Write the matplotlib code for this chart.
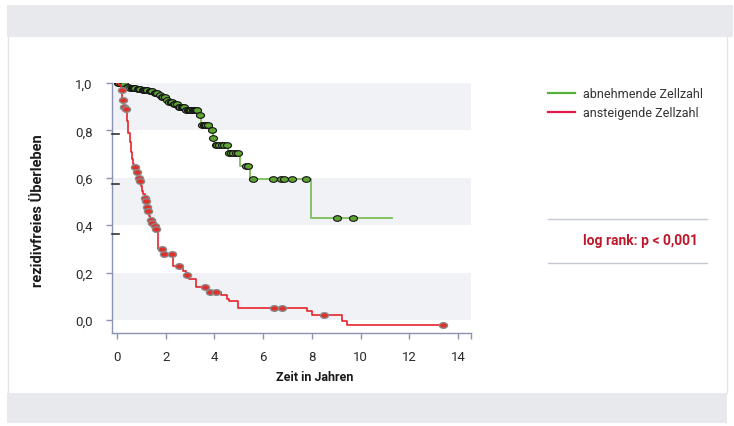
import numpy as np
import matplotlib
matplotlib.use("Agg")
import matplotlib.pyplot as plt
from matplotlib.path import Path
from matplotlib.patches import Rectangle
from matplotlib.lines import Line2D

plt.rcParams['font.family'] = ['Roboto', 'DejaVu Sans']

# ---------------- data ----------------
green_label = "abnehmende Zellzahl"
red_label = "ansteigende Zellzahl"

green_t = [0.0, 0.2, 0.35, 0.5, 0.8, 1.0, 1.3, 1.5, 1.7, 1.8, 2.0, 2.1, 2.3, 2.5, 2.8,
           3.38, 3.45, 3.9, 3.95, 4.0, 4.55, 5.05, 5.45, 7.98, 11.3]
green_s = [1.0, 0.995, 0.985, 0.978, 0.975, 0.97, 0.965, 0.958, 0.95, 0.94, 0.93, 0.92,
           0.91, 0.90, 0.888, 0.865, 0.823, 0.80, 0.77, 0.74, 0.705, 0.65, 0.595, 0.43, 0.43]
green_cens = [0.05, 0.1, 0.15, 0.25, 0.3, 0.4, 0.45, 0.55, 0.6, 0.65, 0.7, 0.75, 0.85, 0.9,
              0.95, 1.05, 1.1, 1.15, 1.2, 1.25, 1.35, 1.4, 1.45, 1.55, 1.6, 1.65, 1.75, 1.85,
              1.9, 1.95, 2.05, 2.15, 2.2, 2.25, 2.35, 2.4, 2.45, 2.55, 2.6, 2.65, 2.7, 2.75,
              2.85, 2.9, 2.95, 3.0, 3.05, 3.1, 3.15, 3.2, 3.25, 3.3, 3.42, 3.5, 3.55, 3.6,
              3.65, 3.75, 3.9, 3.96, 4.05, 4.12, 4.2, 4.3, 4.4, 4.5, 4.6, 4.68, 4.78, 4.88,
              4.98, 5.3, 5.39, 5.6, 6.42, 6.75, 6.87, 7.2, 7.74, 9.05, 9.67]

red_t = [0.0, 0.1, 0.18, 0.22, 0.27, 0.35, 0.42, 0.47, 0.52, 0.57, 0.62, 0.66, 0.70, 0.78,
         0.86, 0.92, 0.98, 1.03, 1.08, 1.13, 1.18, 1.22, 1.25, 1.3, 1.36, 1.42, 1.5, 1.6,
         1.69, 1.9, 2.3, 2.72, 2.85, 2.95, 3.25, 3.7, 4.28, 4.53, 4.61, 4.98, 7.78, 8.02,
         9.22, 9.42, 13.54]
red_s = [1.0, 0.99, 0.97, 0.93, 0.90, 0.89, 0.84, 0.79, 0.75, 0.71, 0.68, 0.66, 0.645, 0.625,
         0.60, 0.585, 0.565, 0.545, 0.53, 0.515, 0.50, 0.475, 0.46, 0.44, 0.42, 0.41, 0.397,
         0.384, 0.30, 0.28, 0.228, 0.207, 0.19, 0.173, 0.139, 0.118, 0.105, 0.089, 0.08,
         0.051, 0.038, 0.021, -0.004, -0.021, -0.021]
red_cens = [0.2, 0.25, 0.3, 0.37, 0.74, 0.82, 0.9, 0.95, 1.15, 1.2, 1.23, 1.26, 1.4, 1.45,
            1.56, 1.62, 1.85, 1.93, 2.26, 2.55, 2.88, 3.62, 3.83, 4.07, 6.46, 6.79, 8.48, 13.37]

y_ticks = [0.0, 0.2, 0.4, 0.6, 0.8, 1.0]
y_ticklabels = ["0,0", "0,2", "0,4", "0,6", "0,8", "1,0"]
x_ticks = [0, 2, 4, 6, 8, 10, 12, 14]
x_ticklabels = ["0", "2", "4", "6", "8", "10", "12", "14"]
x_title = "Zeit in Jahren"
y_title = "rezidivfreies Überleben"
stat_text = "log rank: p < 0,001"

# ---------------- figure ----------------
W, H = 734, 427
fig = plt.figure(figsize=(W / 100, H / 100), dpi=100, facecolor="white")

def fx(px):
    return px / W

def fy(py):
    return 1 - py / H

# page decoration
fig.add_artist(Rectangle((fx(7), fy(38)), fx(733) - fx(7), fy(6) - fy(38),
                         transform=fig.transFigure, facecolor="#e8e9ed", edgecolor="none", zorder=0))
fig.add_artist(Rectangle((fx(7), fy(424)), fx(727) - fx(7), fy(394) - fy(424),
                         transform=fig.transFigure, facecolor="#e8e9ed", edgecolor="none", zorder=0))
for xp in (8, 727):
    fig.add_artist(Line2D([fx(xp), fx(xp)], [fy(394), fy(38)], transform=fig.transFigure,
                          color="#e4e5ea", lw=1, zorder=0))

ax = fig.add_axes([fx(112), fy(334), fx(471) - fx(112), fy(84) - fy(334)])
ax.set_facecolor("white")
ax.set_xlim(-0.206, 14.53)
ax.set_ylim(-0.055, 1.0)

for lo in (0.0, 0.4, 0.8):
    ax.axhspan(lo, lo + 0.2, color="#f1f2f6", zorder=0, lw=0)

# ellipse marker
uc = Path.unit_circle()
ell = Path(uc.vertices * np.array([1.0, 0.7]), uc.codes)


def step_val(t_arr, s_arr, t):
    idx = np.searchsorted(np.asarray(t_arr), t, side="right") - 1
    return np.asarray(s_arr)[idx]


# green curve
ax.step(green_t, green_s, where="post", color="#86c264", lw=1.4, zorder=2)
gy = [step_val(green_t, green_s, t) for t in green_cens]
ax.plot(green_cens, gy, ls="none", marker=ell, ms=5.8, mfc="#5fa533", mec="#151515",
        mew=0.8, zorder=3)

# red curve
ax.step(red_t, red_s, where="post", color="#e8232b", lw=1.2, zorder=4)
ry = [step_val(red_t, red_s, t) for t in red_cens]
ax.plot(red_cens, ry, ls="none", marker=ell, ms=5.8, mfc="#e0302a", mec="#8a8a8a",
        mew=1.0, zorder=5)

# axes styling
for sp in ("top", "right"):
    ax.spines[sp].set_visible(False)
for sp in ("left", "bottom"):
    ax.spines[sp].set_color("#8a93b0")
    ax.spines[sp].set_linewidth(1.0)

ax.set_yticks(y_ticks)
ax.set_yticklabels(y_ticklabels)
ax.set_xticks(x_ticks)
ax.set_xticklabels(x_ticklabels)
ax.set_xticks([14.53], minor=True)
ax.tick_params(axis="both", which="both", colors="#8a93b0", length=4, width=1,
               labelcolor="#2a2a2a", labelsize=9.5)
ax.tick_params(axis="y", pad=10)
ax.tick_params(axis="x", pad=8)

# offset dark dashes near y-axis (as in reference)
for yp in (135, 185, 235):
    fig.add_artist(Line2D([fx(112), fx(119)], [fy(yp), fy(yp)], transform=fig.transFigure,
                          color="#333333", lw=1.2, zorder=6))

fig.text(fx(315), fy(378), x_title, ha="center", va="center", fontsize=9,
         fontweight="bold", color="#1a1a1a")
fig.text(fx(38), fy(211), y_title, ha="center", va="center", rotation=90, fontsize=10.5,
         fontweight="bold", color="#1a1a1a")

# legend
fig.add_artist(Line2D([fx(548), fx(575)], [fy(94), fy(94)], transform=fig.transFigure,
                      color="#55b03a", lw=1.6))
fig.add_artist(Line2D([fx(548), fx(575)], [fy(113), fy(113)], transform=fig.transFigure,
                      color="#e2194a", lw=1.6))
fig.text(fx(583), fy(94), green_label, ha="left", va="center", fontsize=9, color="#333333")
fig.text(fx(583), fy(113), red_label, ha="left", va="center", fontsize=9, color="#333333")

for yp in (220, 264):
    fig.add_artist(Line2D([fx(548), fx(707)], [fy(yp), fy(yp)], transform=fig.transFigure,
                          color="#c5c9d6", lw=1))
fig.text(fx(698), fy(241), stat_text, ha="right", va="center", fontsize=10,
         fontweight="bold", color="#c0182b")

fig.savefig("out.png", dpi=100, facecolor="white")
